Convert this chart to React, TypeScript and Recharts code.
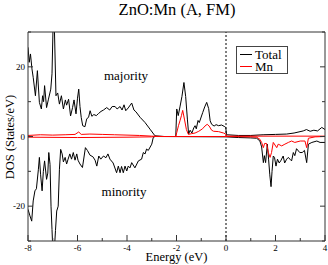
import React from 'react';
import { LineChart, Line, XAxis, YAxis, ReferenceLine } from 'recharts';

// tick positions
const energyTicks = [-8, -7, -6, -5, -4, -3, -2, -1, 0, 1, 2, 3, 4];
const dosTicks = [-30, -20, -10, 0, 10, 20, 30];
const dosLabels = [-20, 0, 20];

// [energy (eV), DOS (states/eV)]
const totalUp: [number, number][] = [
  [-8.0, 25.6], [-7.95, 21.3], [-7.9, 23.7], [-7.84, 19.4], [-7.79, 17.0], [-7.7, 11.7],
  [-7.62, 18.9], [-7.54, 9.8], [-7.46, 7.9], [-7.41, 11.7], [-7.37, 10.0], [-7.33, 14.6],
  [-7.25, 8.3], [-7.18, 10.5], [-7.08, 13.6], [-7.03, 18.0], [-6.98, 34], [-6.94, 33],
  [-6.87, 11.7], [-6.8, 12.5], [-6.73, 9.3], [-6.65, 11.7], [-6.57, 7.9], [-6.49, 10.5],
  [-6.44, 9.0], [-6.36, 10.7], [-6.28, 5.9], [-6.2, 8.3], [-6.14, 10.5], [-6.06, 6.5],
  [-6.0, 11.0], [-5.95, 13.6], [-5.9, 8.6], [-5.85, 5.5], [-5.79, 3.1], [-5.7, 2.8],
  [-5.63, 5.0], [-5.55, 5.6], [-5.49, 7.4], [-5.42, 5.8], [-5.34, 6.3], [-5.24, 6.0],
  [-5.15, 6.6], [-5.05, 7.2], [-4.95, 7.6], [-4.82, 8.3], [-4.7, 7.6], [-4.6, 8.6],
  [-4.48, 8.6], [-4.4, 7.9], [-4.28, 8.6], [-4.2, 7.6], [-4.12, 9.1], [-4.05, 7.4],
  [-3.95, 8.2], [-3.81, 9.6], [-3.72, 7.6], [-3.64, 7.1], [-3.47, 5.5], [-3.27, 4.0],
  [-3.07, 2.1], [-2.87, 0.2], [-2.5, 0], [-2.03, 0], [-1.99, 7.9], [-1.93, 6.0],
  [-1.86, 8.5], [-1.78, 11.5], [-1.7, 15.5], [-1.63, 11.5], [-1.56, 5.0], [-1.51, 0.7],
  [-1.45, 1.8], [-1.38, 1.0], [-1.3, 2.5], [-1.25, 3.1], [-1.2, 2.2], [-1.13, 4.6],
  [-1.08, 4.0], [-0.94, 6.9], [-0.86, 8.5], [-0.78, 9.8], [-0.7, 8.0], [-0.64, 4.5],
  [-0.58, 3.5], [-0.48, 3.0], [-0.4, 3.4], [-0.3, 3.1], [-0.18, 3.3], [-0.07, 2.9],
  [-0.01, 2.6], [0.02, 0.5], [0.5, 0.3], [1.0, 0.3], [1.5, 0.5], [2.0, 0.6],
  [2.45, 0.7], [2.75, 1.0], [3.12, 1.6], [3.25, 2.0], [3.4, 1.5], [3.55, 1.8],
  [3.7, 1.6], [3.87, 2.6], [4.0, 2.0],
];

const totalDown: [number, number][] = [
  [-8.0, -20.9], [-7.92, -22.8], [-7.85, -24.3], [-7.79, -18.5], [-7.72, -15.6], [-7.66, -15.0],
  [-7.58, -9.4], [-7.54, -6.0], [-7.49, -11.0], [-7.43, -15.6], [-7.38, -10.0], [-7.33, -7.0],
  [-7.25, -12.3], [-7.2, -10.5], [-7.16, -4.6], [-7.11, -8.0], [-7.07, -20.0], [-7.03, -26.7],
  [-7.0, -32], [-6.93, -32], [-6.89, -27], [-6.84, -21.4], [-6.78, -20.0], [-6.73, -9.4],
  [-6.68, -3.7], [-6.62, -5.0], [-6.57, -7.3], [-6.5, -6.0], [-6.44, -7.9], [-6.38, -6.5],
  [-6.31, -5.0], [-6.24, -6.5], [-6.17, -4.6], [-6.1, -6.8], [-6.03, -5.0], [-5.98, -6.8],
  [-5.9, -7.9], [-5.8, -8.9], [-5.68, -3.2], [-5.6, -4.0], [-5.49, -5.4], [-5.38, -5.8],
  [-5.29, -6.8], [-5.22, -8.5], [-5.14, -5.6], [-5.06, -6.5], [-4.95, -5.6], [-4.85, -6.1],
  [-4.77, -5.0], [-4.69, -6.5], [-4.56, -7.6], [-4.42, -10.4], [-4.35, -8.5], [-4.28, -10.4],
  [-4.22, -8.6], [-4.15, -10.4], [-4.08, -8.5], [-4.01, -9.9], [-3.95, -8.5], [-3.88, -9.0],
  [-3.81, -7.5], [-3.68, -9.0], [-3.54, -7.0], [-3.41, -6.5], [-3.34, -4.6], [-3.27, -5.0],
  [-3.21, -3.6], [-3.14, -4.0], [-3.0, -2.2], [-2.94, -0.3], [-2.87, 0], [0.0, -0.1],
  [0.5, -0.3], [1.0, -0.4], [1.24, -0.5], [1.37, -1.3], [1.44, -3.0], [1.51, -7.5],
  [1.55, -5.5], [1.6, -7.5], [1.67, -2.2], [1.72, -6.5], [1.77, -11.0], [1.82, -14.4],
  [1.86, -10.0], [1.91, -5.6], [1.96, -6.0], [2.02, -8.5], [2.08, -6.5], [2.15, -7.6],
  [2.21, -7.0], [2.31, -5.6], [2.37, -7.6], [2.45, -6.5], [2.52, -6.0], [2.58, -6.5],
  [2.65, -7.0], [2.72, -4.6], [2.78, -5.5], [2.85, -3.5], [2.98, -4.6], [3.08, -4.6],
  [3.17, -4.0], [3.26, -7.5], [3.33, -2.2], [3.47, -1.7], [3.67, -1.3], [3.8, -1.7],
  [4.0, -1.7],
];

const mnUp: [number, number][] = [
  [-8.0, 0.3], [-7.5, 0.5], [-7.0, 0.4], [-6.5, 0.5], [-6.1, 0.6], [-5.95, 1.3],
  [-5.85, 0.6], [-5.5, 0.7], [-5.0, 0.6], [-4.5, 0.5], [-4.0, 0.4], [-3.5, 0.3],
  [-3.0, 0.1], [-2.5, 0], [-2.03, 0], [-1.99, 1.1], [-1.92, 3.1], [-1.86, 4.5],
  [-1.8, 6.0], [-1.75, 7.5], [-1.68, 5.0], [-1.6, 2.0], [-1.52, 0.6], [-1.4, 0.8],
  [-1.25, 1.0], [-1.1, 1.5], [-0.95, 2.2], [-0.85, 3.0], [-0.76, 3.5], [-0.68, 3.0],
  [-0.58, 1.8], [-0.5, 1.5], [-0.3, 1.4], [-0.1, 1.0], [-0.01, 0.7], [0.02, 0.1],
  [4.0, 0.1],
];

const mnDown: [number, number][] = [
  [-8.0, -0.2], [-6.0, -0.3], [-4.0, -0.2], [-3.0, -0.1], [-2.9, 0], [0.0, 0],
  [1.0, -0.1], [1.24, -0.2], [1.37, -0.8], [1.44, -1.7], [1.51, -3.2], [1.56, -2.0],
  [1.64, -2.0], [1.71, -4.6], [1.78, -6.0], [1.84, -4.6], [1.91, -1.7], [2.05, -3.2],
  [2.11, -2.2], [2.25, -2.7], [2.38, -2.2], [2.52, -1.7], [2.65, -1.3], [2.78, -1.7],
  [3.0, -1.3], [3.19, -1.3], [3.26, -3.2], [3.33, -0.5], [3.6, -0.1], [4.0, 0],
];

const series = [
  { name: 'Total', pts: totalUp, color: '#000' },
  { name: 'Total', pts: totalDown, color: '#000' },
  { name: 'Mn', pts: mnUp, color: '#ff0000' },
  { name: 'Mn', pts: mnDown, color: '#ff0000' },
];

const rows = (pts: [number, number][]) => pts.map(([e, v]) => ({ e, v }));

const FONT = '"Liberation Serif", "Times New Roman", serif';
const FRAME = '#333';

const BottomTick = (props: any) => {
  const { x, y, payload } = props;
  const major = payload.value % 2 === 0;
  return (
    <g>
      <line x1={x} x2={x} y1={y} y2={y - (major ? 6 : 3)} stroke={FRAME} />
      {major && (
        <text x={x} y={y + 10} textAnchor="middle" fontSize={9} fill="#000" style={{ fontFamily: FONT }}>
          {payload.value}
        </text>
      )}
    </g>
  );
};

const TopTick = (props: any) => {
  const { x, y, payload } = props;
  const major = payload.value % 2 === 0;
  return <line x1={x} x2={x} y1={y} y2={y + (major ? 6 : 3)} stroke={FRAME} />;
};

const LeftTick = (props: any) => {
  const { x, y, payload } = props;
  const major = dosLabels.includes(payload.value);
  return (
    <g>
      <line x1={x} x2={x + (major ? 5 : 3)} y1={y} y2={y} stroke={FRAME} />
      {major && (
        <text x={x - 3} y={y + 3} textAnchor="end" fontSize={9} fill="#000" style={{ fontFamily: FONT }}>
          {payload.value}
        </text>
      )}
    </g>
  );
};

const RightTick = (props: any) => {
  const { x, y, payload } = props;
  const major = dosLabels.includes(payload.value);
  return <line x1={x} x2={x - (major ? 5 : 3)} y1={y} y2={y} stroke={FRAME} />;
};

export default function App() {
  const txt = { fontFamily: FONT, fill: '#000' };
  return (
    <div style={{ position: 'absolute', left: 0, top: 0, width: 328, height: 265, background: '#fff' }}>
      <LineChart width={328} height={265} margin={{ top: 30, right: 0, bottom: 0, left: 0 }}>
        <XAxis
          xAxisId="b"
          type="number"
          dataKey="e"
          domain={[-8, 4]}
          ticks={energyTicks}
          interval={0}
          allowDataOverflow
          height={24}
          tickSize={0}
          tickMargin={0}
          tickLine={false}
          tick={<BottomTick />}
          axisLine={{ stroke: FRAME }}
        />
        <XAxis
          xAxisId="t"
          orientation="top"
          type="number"
          domain={[-8, 4]}
          ticks={energyTicks}
          interval={0}
          allowDataOverflow
          height={2}
          tickSize={0}
          tickMargin={0}
          tickLine={false}
          tick={<TopTick />}
          axisLine={{ stroke: FRAME }}
        />
        <YAxis
          yAxisId="l"
          type="number"
          domain={[-30, 30]}
          ticks={dosTicks}
          interval={0}
          allowDataOverflow
          width={28}
          tickSize={0}
          tickMargin={0}
          tickLine={false}
          tick={<LeftTick />}
          axisLine={{ stroke: FRAME }}
        />
        <YAxis
          yAxisId="r"
          orientation="right"
          type="number"
          domain={[-30, 30]}
          ticks={dosTicks}
          interval={0}
          allowDataOverflow
          width={3}
          tickSize={0}
          tickMargin={0}
          tickLine={false}
          tick={<RightTick />}
          axisLine={{ stroke: FRAME }}
        />
        <ReferenceLine xAxisId="b" yAxisId="l" x={0} stroke="#000" strokeDasharray="2 2" />
        {series.map((s, i) => (
          <Line
            key={i}
            xAxisId="b"
            yAxisId="l"
            data={rows(s.pts)}
            dataKey="v"
            name={s.name}
            stroke={s.color}
            strokeWidth={1}
            dot={false}
            activeDot={false}
            isAnimationActive={false}
          />
        ))}
      </LineChart>
      <svg width={328} height={265} style={{ position: 'absolute', left: 0, top: 0, pointerEvents: 'none' }}>
        <text x={177} y={15} textAnchor="middle" fontSize={16.5} style={txt}>ZnO:Mn (A, FM)</text>
        <text x={176.5} y={261} textAnchor="middle" fontSize={12.5} style={txt}>Energy (eV)</text>
        <text x={0} y={0} transform="translate(14,137) rotate(-90)" textAnchor="middle" fontSize={12.5} style={txt}>
          DOS (States/eV)
        </text>
        <text x={126} y={80} textAnchor="middle" fontSize={13} style={txt}>majority</text>
        <text x={124} y={196} textAnchor="middle" fontSize={13} style={txt}>minority</text>
        <g transform="translate(236,46)">
          <rect x={0.5} y={0.5} width={51} height={27} fill="#fff" stroke="#444" />
          <line x1={4} x2={16} y1={8.5} y2={8.5} stroke="#000" />
          <text x={19} y={12.5} fontSize={13} style={txt}>Total</text>
          <line x1={4} x2={16} y1={20.5} y2={20.5} stroke="#ff0000" />
          <text x={19} y={24.5} fontSize={13} style={txt}>Mn</text>
        </g>
      </svg>
    </div>
  );
}
